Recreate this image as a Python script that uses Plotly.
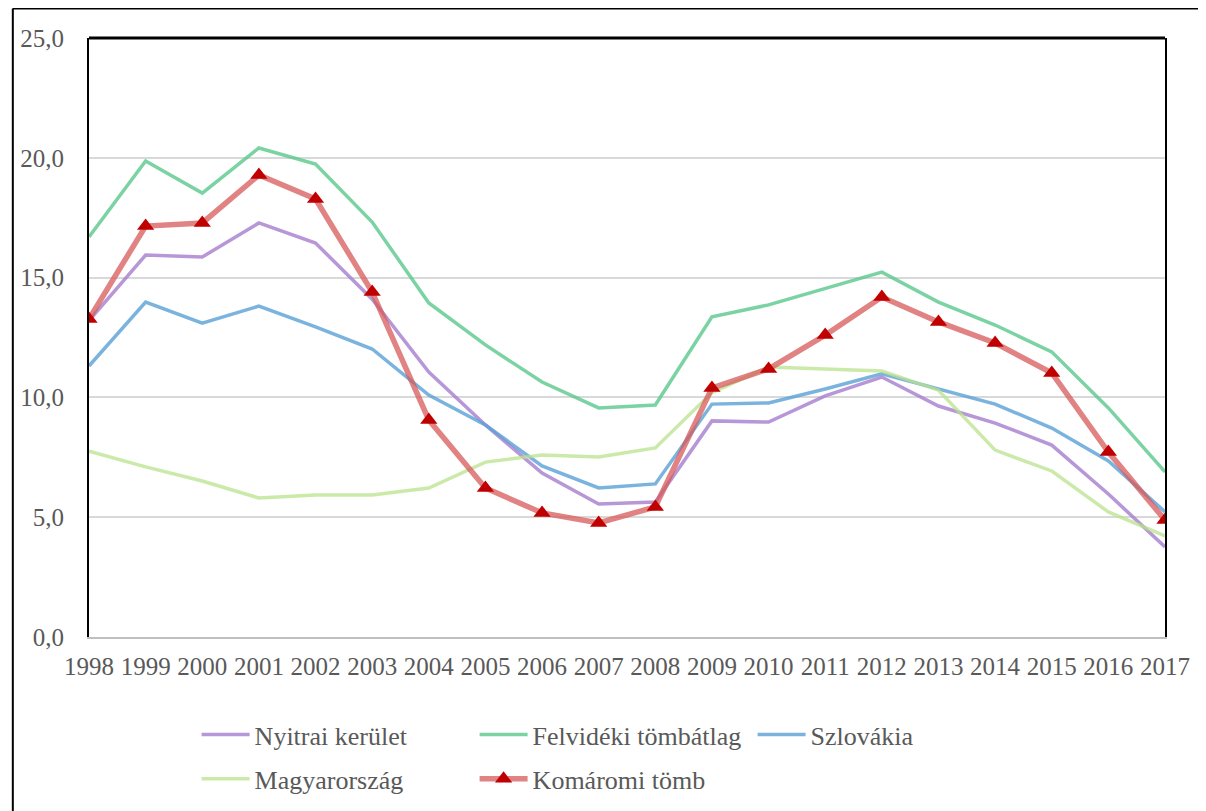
import plotly.graph_objects as go

years = [str(y) for y in range(1998, 2018)]

nyitrai = [13.2, 15.94, 15.86, 17.28, 16.44, 14.1, 11.06, 8.85, 6.84, 5.55, 5.63, 9.02, 8.97, 10.06, 10.85, 9.64, 8.93, 8.01, 5.97, 3.76]
felvideki = [16.7, 19.87, 18.53, 20.41, 19.74, 17.32, 13.94, 12.19, 10.64, 9.56, 9.68, 13.36, 13.86, 14.55, 15.23, 13.98, 13.02, 11.9, 9.56, 6.89]
szlovakia = [11.31, 13.98, 13.1, 13.81, 12.94, 12.02, 10.1, 8.85, 7.14, 6.22, 6.39, 9.72, 9.77, 10.35, 10.98, 10.35, 9.72, 8.72, 7.35, 5.22]
magyar = [7.76, 7.1, 6.51, 5.8, 5.93, 5.93, 6.22, 7.3, 7.6, 7.51, 7.89, 10.2, 11.27, 11.19, 11.1, 10.3, 7.8, 6.93, 5.22, 4.22]
komaromi = [13.27, 17.15, 17.28, 19.28, 18.28, 14.4, 9.06, 6.22, 5.18, 4.76, 5.43, 10.39, 11.19, 12.6, 14.19, 13.15, 12.27, 11.02, 7.72, 4.88]

FONT = "Liberation Serif, Times New Roman, serif"
TXT = "#595959"

fig = go.Figure()
fig.add_trace(go.Scatter(x=years, y=nyitrai, name="Nyitrai kerület", mode="lines",
                         line=dict(color="rgba(165,125,205,0.8)", width=3.5), legend="legend"))
fig.add_trace(go.Scatter(x=years, y=felvideki, name="Felvidéki tömbátlag", mode="lines",
                         line=dict(color="rgba(90,200,140,0.8)", width=3.5), legend="legend"))
fig.add_trace(go.Scatter(x=years, y=szlovakia, name="Szlovákia", mode="lines",
                         line=dict(color="rgba(90,160,215,0.8)", width=3.5), legend="legend"))
fig.add_trace(go.Scatter(x=years, y=magyar, name="Magyarország", mode="lines",
                         line=dict(color="rgba(185,225,140,0.75)", width=3.5), legend="legend2"))
fig.add_trace(go.Scatter(x=years, y=komaromi, name="Komáromi tömb", mode="lines+markers",
                         line=dict(color="rgba(215,90,90,0.75)", width=5.5),
                         marker=dict(symbol="triangle-up", size=15, color="#c00000"),
                         legend="legend2"))

legend_common = dict(orientation="h", xanchor="left", yanchor="top",
                     font=dict(family=FONT, size=26, color=TXT),
                     bgcolor="rgba(0,0,0,0)", entrywidth=215, entrywidthmode="pixels",
                     itemwidth=48, tracegroupgap=0)

# figure is offset by the page's 8px body margin; make it large enough that
# the legends never push the margins (the overflow is simply cropped)
W, H = 1206, 840
L, T = 77, 30
PW, PH = 1080, 599

fig.update_layout(
    width=W, height=H,
    margin=dict(l=L, r=W - L - PW, t=T, b=H - T - PH),
    paper_bgcolor="white", plot_bgcolor="white",
    separators=", ",
    font=dict(family=FONT, size=25, color=TXT),
    showlegend=True,
    legend=dict(x=0.1, y=-0.1237, **legend_common),
    legend2=dict(x=0.1, y=-0.1977, **legend_common),
    xaxis=dict(type="category", range=[0, 19], showgrid=False, showline=True,
               linecolor="#bfbfbf", linewidth=2, ticks="", ticklabelstandoff=6,
               tickfont=dict(family=FONT, size=25, color=TXT), zeroline=False),
    yaxis=dict(range=[0, 25], dtick=5, tickformat=".1f", showgrid=True,
               gridcolor="#d9d9d9", gridwidth=2, showline=True, linecolor="black",
               linewidth=2, mirror=True, ticks="", ticklabelstandoff=18,
               tickfont=dict(family=FONT, size=25, color=TXT), zeroline=False),
    shapes=[
        dict(type="line", xref="paper", yref="paper", x0=0, x1=1, y0=1, y1=1,
             line=dict(color="black", width=3)),
        dict(type="line", xref="paper", yref="paper", x0=-0.0708, x1=1.06, y0=1.0492, y1=1.0492,
             line=dict(color="black", width=2)),
        dict(type="line", xref="paper", yref="paper", x0=-0.0708, x1=-0.0708, y0=1.0492, y1=-0.35,
             line=dict(color="black", width=2)),
    ],
)

fig.write_html("out.html")
